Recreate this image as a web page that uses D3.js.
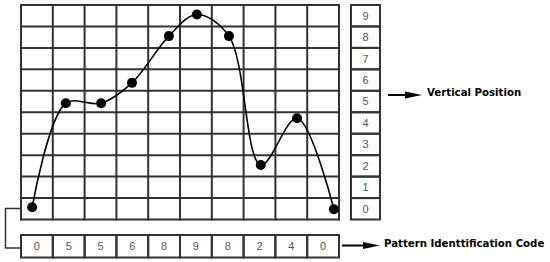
<!DOCTYPE html>
<html>
<head>
<meta charset="utf-8">
<script src="https://cdn.jsdelivr.net/npm/d3@7"></script>
<style>
  body { margin: 0; background: #fff; }
</style>
</head>
<body>
<div id="chart"></div>
<script>
// pattern code read at each column
const codes = [0, 5, 5, 6, 8, 9, 8, 2, 4, 0];
// where each dot sits, in grid cell units (column, row)
const pointCol = [0.35, 1.41, 2.52, 3.49, 4.65, 5.53, 6.54, 7.54, 8.68, 9.84];
const pointRow = [0.57, 5.42, 5.42, 6.37, 8.55, 9.56, 8.55, 2.54, 4.72, 0.48];
// labels of the vertical position column
const levels = [0, 1, 2, 3, 4, 5, 6, 7, 8, 9];
const labelVertical = "Vertical Position";
const labelCode = "Pattern Identtification Code";

(function draw() {
    const WIDTH = 550;
    const HEIGHT = 262;
    const STROKE = "#333";

    const svg = d3.select("#chart").append("svg")
        .attr("width", WIDTH)
        .attr("height", HEIGHT)
        .style("background", "#fff");

    const x = d3.scaleLinear().domain([0, 10]).range([21, 339]);
    const y = d3.scaleLinear().domain([0, 10]).range([219.5, 5]);

    // main grid
    const grid = svg.append("g")
        .attr("stroke", STROKE)
        .attr("stroke-width", 2)
        .attr("fill", "none");
    grid.selectAll("line.v").data(d3.range(11)).join("line")
        .attr("class", "v")
        .attr("x1", d => x(d)).attr("x2", d => x(d))
        .attr("y1", y(0) + 1).attr("y2", y(10) - 1);
    grid.selectAll("line.h").data(d3.range(11)).join("line")
        .attr("class", "h")
        .attr("y1", d => y(d)).attr("y2", d => y(d))
        .attr("x1", x(0) - 1).attr("x2", x(10) + 1);

    // vertical position column
    const colX0 = 351, colX1 = 380;
    const col = svg.append("g");
    col.selectAll("rect").data(levels).join("rect")
        .attr("x", colX0)
        .attr("y", d => y(d + 1))
        .attr("width", colX1 - colX0)
        .attr("height", y(0) - y(1))
        .attr("fill", "none")
        .attr("stroke", STROKE)
        .attr("stroke-width", 2);
    col.selectAll("text").data(levels).join("text")
        .attr("x", (colX0 + colX1) / 2)
        .attr("y", d => y(d + 0.5))
        .attr("dy", "0.36em")
        .attr("text-anchor", "middle")
        .attr("fill", "#555")
        .style("font-family", "'Liberation Sans', Arial, sans-serif")
        .style("font-size", "11px")
        .text(d => d);

    // code row
    const rowY0 = 235, rowY1 = 257.5;
    const row = svg.append("g");
    row.selectAll("rect").data(codes).join("rect")
        .attr("x", (d, i) => x(i))
        .attr("y", rowY0)
        .attr("width", x(1) - x(0))
        .attr("height", rowY1 - rowY0)
        .attr("fill", "none")
        .attr("stroke", STROKE)
        .attr("stroke-width", 2);
    row.selectAll("text").data(codes).join("text")
        .attr("x", (d, i) => x(i + 0.5))
        .attr("y", (rowY0 + rowY1) / 2)
        .attr("dy", "0.36em")
        .attr("text-anchor", "middle")
        .attr("fill", "#555")
        .style("font-family", "'Liberation Sans', Arial, sans-serif")
        .style("font-size", "11px")
        .text(d => d);

    // bracket joining the grid to the code row
    svg.append("path")
        .attr("d", `M${x(0)},208.5 H5.5 V248 H${x(0)}`)
        .attr("fill", "none")
        .attr("stroke", STROKE)
        .attr("stroke-width", 1.5);

    // curve through the dots
    const pts = codes.map((d, i) => [x(pointCol[i]), y(pointRow[i])]);
    svg.append("path")
        .attr("d", d3.line().curve(d3.curveCatmullRom.alpha(0.5))(pts))
        .attr("fill", "none")
        .attr("stroke", "#000")
        .attr("stroke-width", 1.6);
    svg.selectAll("circle.dot").data(pts).join("circle")
        .attr("class", "dot")
        .attr("cx", d => d[0])
        .attr("cy", d => d[1])
        .attr("r", 5)
        .attr("fill", "#000");

    // arrows with labels
    function arrow(x0, x1, yy) {
        svg.append("line")
            .attr("x1", x0).attr("x2", x1 - 14)
            .attr("y1", yy).attr("y2", yy)
            .attr("stroke", "#000")
            .attr("stroke-width", 2);
        svg.append("path")
            .attr("d", `M${x1 - 17},${yy - 3.5} L${x1},${yy} L${x1 - 17},${yy + 3.5} Z`)
            .attr("fill", "#000");
    }
    arrow(388, 422, 95);
    arrow(342, 380, 245.5);

    svg.append("text")
        .attr("x", 427).attr("y", 92)
        .attr("dy", "0.36em")
        .attr("fill", "#000")
        .style("font-family", "'DejaVu Sans', Verdana, sans-serif")
        .style("font-weight", "bold")
        .style("font-size", "10.2px")
        .text(labelVertical);
    svg.append("text")
        .attr("x", 384).attr("y", 243.5)
        .attr("dy", "0.36em")
        .attr("fill", "#000")
        .style("font-family", "'DejaVu Sans', Verdana, sans-serif")
        .style("font-weight", "bold")
        .style("font-size", "10.2px")
        .text(labelCode);
})();
</script>
</body>
</html>
